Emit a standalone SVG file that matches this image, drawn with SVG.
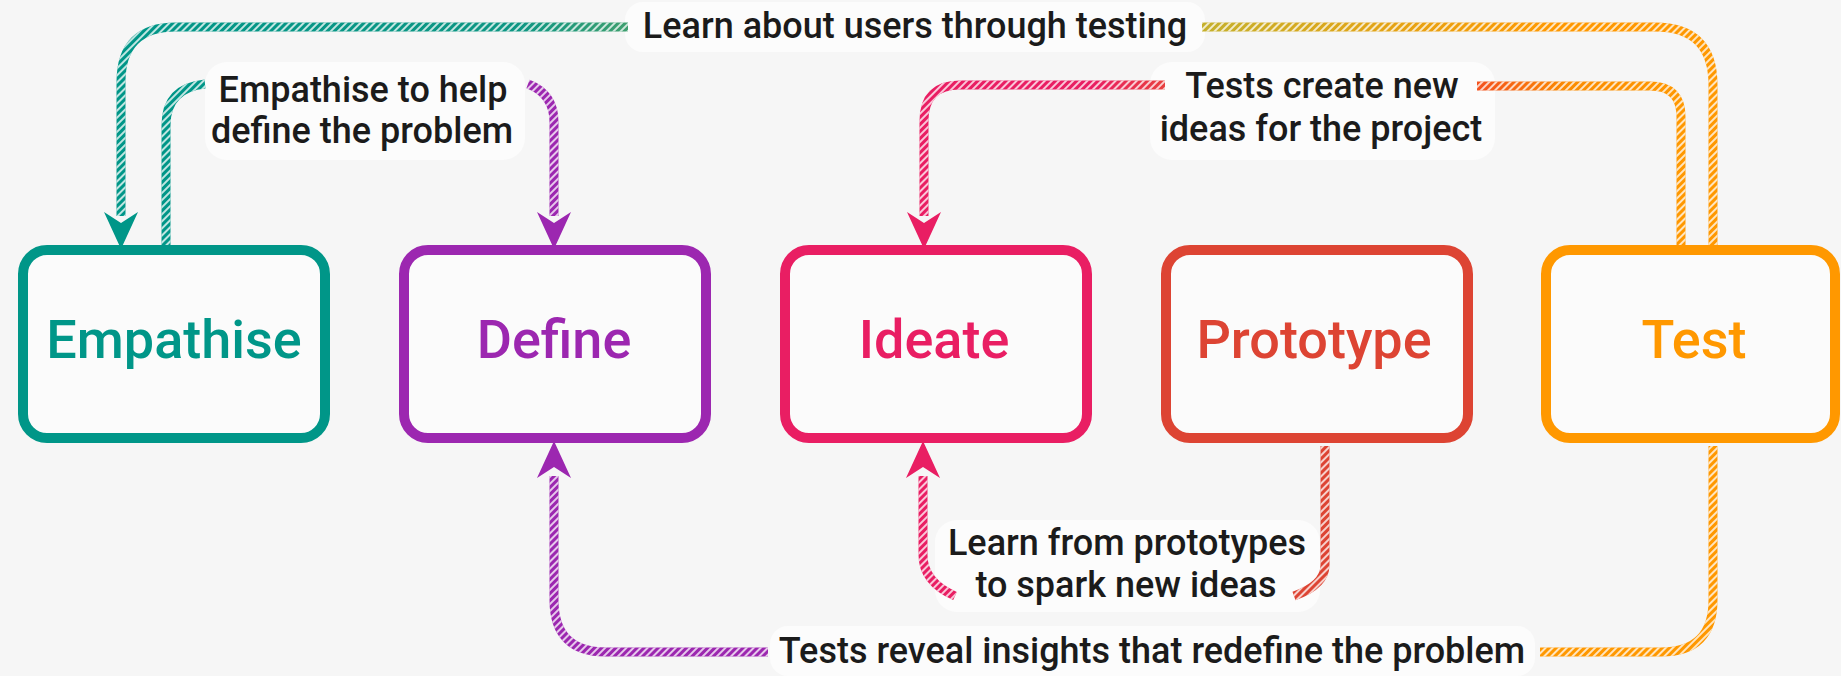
<svg xmlns="http://www.w3.org/2000/svg" xmlns:xlink="http://www.w3.org/1999/xlink" width="1841" height="676" viewBox="0 0 1841 676">
<style>
  .box { fill: #fbfbfb; stroke-width: 10; }
  .boxtext { font-family: Roboto, "Liberation Sans", sans-serif; font-weight: 500; font-size: 54px; text-anchor: middle; }
  .lbl { font-family: Roboto, "Liberation Sans", sans-serif; font-weight: 500; font-size: 36px; text-anchor: middle; fill: #1b1b1b; }
  .lblbg { fill: #fcfcfc; }
  .line { fill: none; stroke-width: 9; stroke-linecap: butt; stroke-linejoin: round; }
  .stripe { fill: none; stroke: #ffffff; stroke-width: 9; stroke-opacity: 0.75; }
</style>
<defs>
  <pattern id="stripePat" patternUnits="userSpaceOnUse" width="5" height="5" patternTransform="rotate(45)">
    <rect x="0" y="0" width="2" height="5" fill="#ffffff"/>
  </pattern>
  <mask id="stripeMask" maskUnits="userSpaceOnUse" x="0" y="0" width="1841" height="676">
    <rect x="0" y="0" width="1841" height="676" fill="url(#stripePat)"/>
  </mask>
  <linearGradient id="gTop" gradientUnits="userSpaceOnUse" x1="121" y1="0" x2="1713" y2="0">
    <stop offset="0" stop-color="#009688"/>
    <stop offset="0.25" stop-color="#0e9683"/>
    <stop offset="0.32" stop-color="#3f9f6e"/>
    <stop offset="0.68" stop-color="#c5b02c"/>
    <stop offset="0.9" stop-color="#ff9800"/>
    <stop offset="1" stop-color="#ff9800"/>
  </linearGradient>
  <linearGradient id="gPink" gradientUnits="userSpaceOnUse" x1="924" y1="0" x2="1165" y2="0">
    <stop offset="0" stop-color="#e91e63"/>
    <stop offset="0.7" stop-color="#e91e63"/>
    <stop offset="1" stop-color="#e8403e"/>
  </linearGradient>
  <linearGradient id="gOrange" gradientUnits="userSpaceOnUse" x1="1477" y1="0" x2="1681" y2="0">
    <stop offset="0" stop-color="#f4511e"/>
    <stop offset="0.45" stop-color="#fb8c00"/>
    <stop offset="1" stop-color="#ff9800"/>
  </linearGradient>
  <path id="c1" d="M628,27 H176 Q121,27 121,82 V216"/>
  <path id="c2" d="M1202,27 H1655 Q1713,27 1713,85 V250"/>
  <path id="c3" d="M205,84 Q166,88 166,125 V250"/>
  <path id="c4" d="M528,84 Q554,94 554,122 V216"/>
  <path id="c5" d="M1165,85 H960 Q924,85 924,121 V216"/>
  <path id="c6" d="M1477,86 H1650 Q1681,86 1681,117 V250"/>
  <path id="c7" d="M554,476 V600 Q554,652 606,652 H768"/>
  <path id="c8" d="M923,476 V555 Q923,582 955,596"/>
  <path id="c9" d="M1325,446 V565 Q1325,585 1294,596"/>
  <path id="c10" d="M1713,446 V600 Q1713,652 1661,652 H1540"/>
  <path id="arrowDown" d="M0,0 L-17,-37 L0,-26 L17,-37 Z"/>
</defs>

<rect x="0" y="0" width="1841" height="676" fill="#f6f6f6"/>

<g id="labels-bg">
  <rect class="lblbg" x="625" y="2" width="580" height="50" rx="18"/>
  <rect class="lblbg" x="205" y="62" width="320" height="98" rx="22"/>
  <rect class="lblbg" x="1150" y="62" width="345" height="98" rx="22"/>
  <rect class="lblbg" x="935" y="520" width="385" height="92" rx="22"/>
  <rect class="lblbg" x="770" y="626" width="765" height="50" rx="18"/>
</g>

<g id="connectors">
  <g class="line">
    <use xlink:href="#c1" href="#c1" stroke="url(#gTop)"/>
    <use xlink:href="#c2" href="#c2" stroke="url(#gTop)"/>
    <use xlink:href="#c3" href="#c3" stroke="#009688"/>
    <use xlink:href="#c4" href="#c4" stroke="#9c27b0"/>
    <use xlink:href="#c5" href="#c5" stroke="url(#gPink)"/>
    <use xlink:href="#c6" href="#c6" stroke="url(#gOrange)"/>
    <use xlink:href="#c7" href="#c7" stroke="#9c27b0"/>
    <use xlink:href="#c8" href="#c8" stroke="#e91e63"/>
    <use xlink:href="#c9" href="#c9" stroke="#dd4433"/>
    <use xlink:href="#c10" href="#c10" stroke="#ff9800"/>
  </g>
  <g class="stripe" mask="url(#stripeMask)">
    <use xlink:href="#c1" href="#c1"/>
    <use xlink:href="#c2" href="#c2"/>
    <use xlink:href="#c3" href="#c3"/>
    <use xlink:href="#c4" href="#c4"/>
    <use xlink:href="#c5" href="#c5"/>
    <use xlink:href="#c6" href="#c6"/>
    <use xlink:href="#c7" href="#c7"/>
    <use xlink:href="#c8" href="#c8"/>
    <use xlink:href="#c9" href="#c9"/>
    <use xlink:href="#c10" href="#c10"/>
  </g>
  <g id="arrowheads">
    <use xlink:href="#arrowDown" href="#arrowDown" fill="#009688" transform="translate(121,249)"/>
    <use xlink:href="#arrowDown" href="#arrowDown" fill="#9c27b0" transform="translate(554,249)"/>
    <use xlink:href="#arrowDown" href="#arrowDown" fill="#e91e63" transform="translate(924,249)"/>
    <use xlink:href="#arrowDown" href="#arrowDown" fill="#9c27b0" transform="translate(554,441) rotate(180)"/>
    <use xlink:href="#arrowDown" href="#arrowDown" fill="#e91e63" transform="translate(923,441) rotate(180)"/>
  </g>
</g>

<g id="node-empathise">
  <rect class="box" x="23" y="250" width="302" height="188" rx="24" stroke="#009688"/>
  <text class="boxtext" x="174" y="358" fill="#009688">Empathise</text>
</g>
<g id="node-define">
  <rect class="box" x="404" y="250" width="302" height="188" rx="24" stroke="#9c27b0"/>
  <text class="boxtext" x="554" y="358" fill="#9c27b0">Define</text>
</g>
<g id="node-ideate">
  <rect class="box" x="785" y="250" width="302" height="188" rx="24" stroke="#e91e63"/>
  <text class="boxtext" x="934" y="358" fill="#e91e63">Ideate</text>
</g>
<g id="node-prototype">
  <rect class="box" x="1166" y="250" width="302" height="188" rx="24" stroke="#dd4433"/>
  <text class="boxtext" x="1314" y="358" fill="#dd4433">Prototype</text>
</g>
<g id="node-test">
  <rect class="box" x="1546" y="250" width="289" height="188" rx="24" stroke="#ff9800"/>
  <text class="boxtext" x="1694" y="358" fill="#ff9800">Test</text>
</g>

<g id="edge-labels">
  <text class="lbl" x="915" y="38">Learn about users through testing</text>
  <text class="lbl" x="363" y="102">Empathise to help</text>
  <text class="lbl" x="362" y="143">define the problem</text>
  <text class="lbl" x="1322" y="98">Tests create new</text>
  <text class="lbl" x="1321" y="141">ideas for the project</text>
  <text class="lbl" x="1127" y="555">Learn from prototypes</text>
  <text class="lbl" x="1126" y="597">to spark new ideas</text>
  <text class="lbl" x="1152" y="663">Tests reveal insights that redefine the problem</text>
</g>
</svg>
